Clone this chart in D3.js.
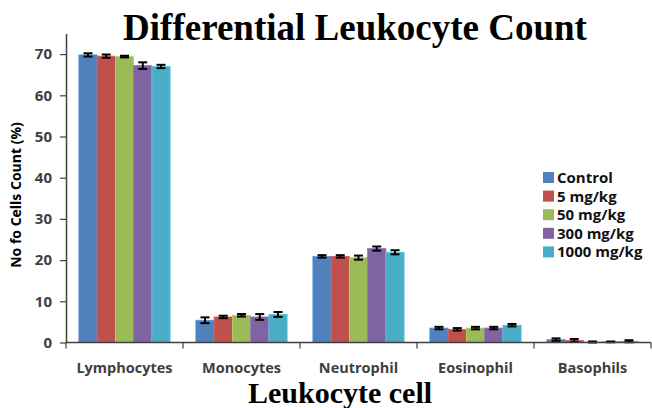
<!DOCTYPE html>
<html>
<head>
<meta charset="utf-8">
<script src="https://cdn.jsdelivr.net/npm/d3@7"></script>
<style>
  body { margin: 0; background: #fff; }
  svg { display: block; }
</style>
</head>
<body>
<div id="chart"></div>
<script>
const categories = ['Lymphocytes', 'Monocytes', 'Neutrophil', 'Eosinophil', 'Basophils'];
const groups = ['Control', '5 mg/kg', '50 mg/kg', '300 mg/kg', '1000 mg/kg'];
const colors = ['#4F81BD', '#C0504D', '#9BBB59', '#8064A2', '#4BACC6'];

// values per group, one entry per category
const control = [69.8, 5.4, 20.9, 3.5, 0.7];
const mg5 = [69.5, 6.2, 20.9, 3.2, 0.5];
const mg50 = [69.4, 6.6, 20.6, 3.5, 0.1];
const mg300 = [67.2, 6.2, 22.8, 3.5, 0.15];
const mg1000 = [67.0, 6.8, 21.9, 4.2, 0.3];

// standard errors
const controlErr = [0.4, 0.7, 0.3, 0.3, 0.3];
const mg5Err = [0.4, 0.3, 0.3, 0.3, 0.35];
const mg50Err = [0.2, 0.3, 0.5, 0.3, 0.15];
const mg300Err = [0.8, 0.7, 0.5, 0.3, 0.1];
const mg1000Err = [0.4, 0.6, 0.5, 0.3, 0.25];

const yTicks = [0, 10, 20, 30, 40, 50, 60, 70];

const values = [control, mg5, mg50, mg300, mg1000];
const errors = [controlErr, mg5Err, mg50Err, mg300Err, mg1000Err];

const width = 652, height = 408;
const plot = { left: 66, right: 651, top: 33.5, bottom: 342.5 };

const data = categories.flatMap((cat, ci) => groups.map((g, gi) => ({
  cat, group: g, gi, value: values[gi][ci], err: errors[gi][ci]
})));

const svg = d3.select('#chart').append('svg')
  .attr('width', width)
  .attr('height', height);

const y = d3.scaleLinear().domain([0, 75]).range([plot.bottom, plot.top]);
const x0 = d3.scaleBand().domain(categories).range([plot.left, plot.right])
  .paddingInner(0.22).paddingOuter(0.11);
const x1 = d3.scaleBand().domain(groups).range([0, x0.bandwidth()]);

// bars
svg.append('g')
  .selectAll('rect')
  .data(data)
  .join('rect')
  .attr('x', d => x0(d.cat) + x1(d.group))
  .attr('y', d => y(d.value))
  .attr('width', x1.bandwidth())
  .attr('height', d => y(0) - y(d.value))
  .attr('fill', d => colors[d.gi])
  .attr('stroke', d => d3.color(colors[d.gi]).brighter(0.4))
  .attr('stroke-width', 0.8);

// error bars
const capW = 4.5;
const cx = d => x0(d.cat) + x1(d.group) + x1.bandwidth() / 2;
const hi = d => y(d.value + d.err);
const lo = d => y(Math.max(0, d.value - d.err));
const err = svg.append('g').attr('stroke', '#000').attr('stroke-width', 2);
err.selectAll('line.v')
  .data(data)
  .join('line')
  .attr('class', 'v')
  .attr('x1', cx).attr('x2', cx)
  .attr('y1', hi).attr('y2', lo);
[['top', hi], ['bot', lo]].forEach(([k, f]) => {
  err.selectAll('line.' + k)
    .data(data)
    .join('line')
    .attr('class', k)
    .attr('x1', d => cx(d) - capW)
    .attr('x2', d => cx(d) + capW)
    .attr('y1', f)
    .attr('y2', f);
});

// y axis
const yAxis = svg.append('g')
  .attr('transform', `translate(${plot.left},0)`)
  .call(d3.axisLeft(y).tickValues(yTicks).tickSize(6).tickPadding(8).tickSizeOuter(0));
yAxis.select('.domain').attr('stroke', '#404040').attr('stroke-width', 1.5);
yAxis.selectAll('.tick line').attr('stroke', '#404040').attr('stroke-width', 1.2);
yAxis.selectAll('.tick text')
  .attr('fill', '#404040')
  .style('font', 'bold 15px "Open Sans", sans-serif');

// x axis with ticks at category boundaries
const bounds = categories.map(c => x0(c) - x0.step() * x0.paddingInner() / 2).concat([plot.right]);
const xg = svg.append('g');
xg.append('line')
  .attr('x1', plot.left).attr('x2', plot.right)
  .attr('y1', y(0)).attr('y2', y(0))
  .attr('stroke', '#404040').attr('stroke-width', 1.5);
xg.selectAll('line.tick')
  .data(bounds)
  .join('line')
  .attr('class', 'tick')
  .attr('x1', d => d).attr('x2', d => d)
  .attr('y1', y(0)).attr('y2', y(0) + 6)
  .attr('stroke', '#404040').attr('stroke-width', 1.2);
xg.selectAll('text')
  .data(categories)
  .join('text')
  .attr('x', d => x0(d) + x0.bandwidth() / 2)
  .attr('y', 373)
  .attr('text-anchor', 'middle')
  .attr('fill', '#404040')
  .style('font', 'bold 14.5px "Open Sans", sans-serif')
  .text(d => d);

// titles
svg.append('text')
  .attr('x', 355).attr('y', 40)
  .attr('text-anchor', 'middle')
  .style('font', 'bold 37px "Liberation Serif", serif')
  .text('Differential Leukocyte Count');

svg.append('text')
  .attr('x', 340).attr('y', 403)
  .attr('text-anchor', 'middle')
  .style('font', 'bold 30px "Liberation Serif", serif')
  .text('Leukocyte cell');

svg.append('text')
  .attr('transform', 'translate(21,195) rotate(-90)')
  .attr('text-anchor', 'middle')
  .style('font', 'bold 14px "Open Sans", sans-serif')
  .text('No fo Cells Count (%)');

// legend
const legend = svg.append('g').attr('transform', 'translate(543,172)');
const item = legend.selectAll('g')
  .data(groups)
  .join('g')
  .attr('transform', (d, i) => `translate(0,${i * 18.6})`);
item.append('rect')
  .attr('width', 11).attr('height', 11)
  .attr('fill', (d, i) => colors[i]);
item.append('text')
  .attr('x', 14).attr('y', 11)
  .style('font', 'bold 15px "Open Sans", sans-serif')
  .attr('fill', '#111')
  .text(d => d);
</script>
</body>
</html>
